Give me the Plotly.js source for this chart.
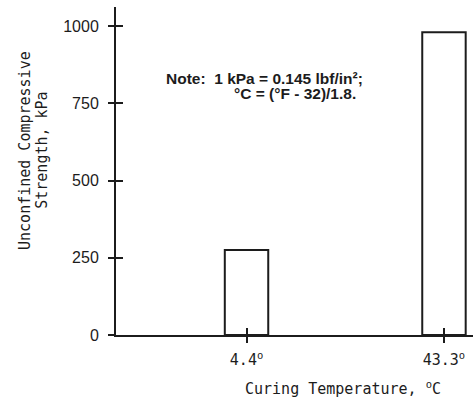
<!DOCTYPE html>
<html>
<head>
<meta charset="utf-8">
<script src="https://cdn.plot.ly/plotly-3.0.1.min.js"></script>
<style>
  html, body { margin: 0; padding: 0; background: #ffffff; }
  #chart { width: 473px; height: 401px; }
</style>
</head>
<body>
<div id="chart"></div>
<script>
// Curing temperatures (°C) and unconfined compressive strength (kPa)
const tempLabels = ['4.4<sup>o</sup>', '43.3<sup>o</sup>'];
const strengthKPa = [275, 980];
const yTickVals = [0, 250, 500, 750, 1000];
const yTickText = ['0', '250', '500', '750', '1000'];

const ink = '#1c1c1c';
const mono = 'DejaVu Sans Mono, monospace';
const sans = 'Liberation Sans, Arial, sans-serif';

const xRange = [-0.661, 1.147];
const yRange = [0, 1062];

const bars = {
  type: 'bar',
  x: tempLabels,
  y: strengthKPa,
  width: 0.22,
  marker: { color: '#ffffff', line: { color: ink, width: 2 } },
  hoverinfo: 'x+y',
  xaxis: 'x',
  yaxis: 'y'
};

// Same bars on an overlaid pair of axes, invisible, so the inner half of each tick mark is drawn
const ghost = {
  type: 'bar',
  x: tempLabels,
  y: strengthKPa,
  width: 0.22,
  marker: { color: 'rgba(0,0,0,0)', line: { width: 0 } },
  hoverinfo: 'skip',
  showlegend: false,
  xaxis: 'x2',
  yaxis: 'y2'
};

const layout = {
  width: 473,
  height: 401,
  margin: { l: 116, r: 0, t: 7, b: 66 },
  paper_bgcolor: '#ffffff',
  plot_bgcolor: '#ffffff',
  showlegend: false,
  xaxis: {
    type: 'category',
    categoryorder: 'array',
    categoryarray: tempLabels,
    range: xRange,
    showgrid: false,
    zeroline: false,
    showline: true,
    linecolor: ink,
    linewidth: 2,
    ticks: 'outside',
    ticklen: 6,
    tickwidth: 2,
    tickcolor: ink,
    ticklabelstandoff: 4,
    tickfont: { family: mono, size: 15, color: ink }
  },
  yaxis: {
    range: yRange,
    tickmode: 'array',
    tickvals: yTickVals,
    ticktext: yTickText,
    showgrid: false,
    zeroline: false,
    showline: true,
    linecolor: ink,
    linewidth: 2,
    ticks: 'outside',
    ticklen: 6,
    tickwidth: 2,
    tickcolor: ink,
    ticklabelstandoff: 6,
    tickfont: { family: sans, size: 16, color: ink }
  },
  xaxis2: {
    type: 'category',
    categoryorder: 'array',
    categoryarray: tempLabels,
    range: xRange,
    overlaying: 'x',
    side: 'bottom',
    showgrid: false,
    zeroline: false,
    showline: false,
    ticks: 'inside',
    ticklen: 7,
    tickwidth: 2,
    tickcolor: ink,
    showticklabels: false
  },
  yaxis2: {
    range: yRange,
    overlaying: 'y',
    side: 'left',
    tickmode: 'array',
    tickvals: yTickVals,
    showgrid: false,
    zeroline: false,
    showline: false,
    ticks: 'inside',
    ticklen: 7,
    tickwidth: 2,
    tickcolor: ink,
    showticklabels: false
  },
  annotations: [
    {
      text: 'Note:  1 kPa = 0.145 lbf/in²;',
      xref: 'paper', yref: 'paper', x: 0.6975, y: 0.782,
      xanchor: 'right', yanchor: 'middle', showarrow: false,
      font: { family: sans, size: 15.5, color: ink, weight: 'bold' }
    },
    {
      text: '°C = (°F - 32)/1.8.',
      xref: 'paper', yref: 'paper', x: 0.678, y: 0.736,
      xanchor: 'right', yanchor: 'middle', showarrow: false,
      font: { family: sans, size: 15.5, color: ink, weight: 'bold' }
    },
    {
      text: 'Unconfined Compressive',
      xref: 'paper', yref: 'paper', x: -0.255, y: 0.564,
      xanchor: 'center', yanchor: 'middle', textangle: -90, showarrow: false,
      font: { family: mono, size: 15, color: ink }
    },
    {
      text: 'Strength, kPa',
      xref: 'paper', yref: 'paper', x: -0.208, y: 0.564,
      xanchor: 'center', yanchor: 'middle', textangle: -90, showarrow: false,
      font: { family: mono, size: 15, color: ink }
    },
    {
      text: 'Curing Temperature, <sup>o</sup>C',
      xref: 'paper', yref: 'paper', x: 0.636, y: -0.1616,
      xanchor: 'center', yanchor: 'middle', showarrow: false,
      font: { family: mono, size: 15, color: ink }
    }
  ]
};

Plotly.newPlot('chart', [bars, ghost], layout, { displayModeBar: false, staticPlot: true });
</script>
</body>
</html>
